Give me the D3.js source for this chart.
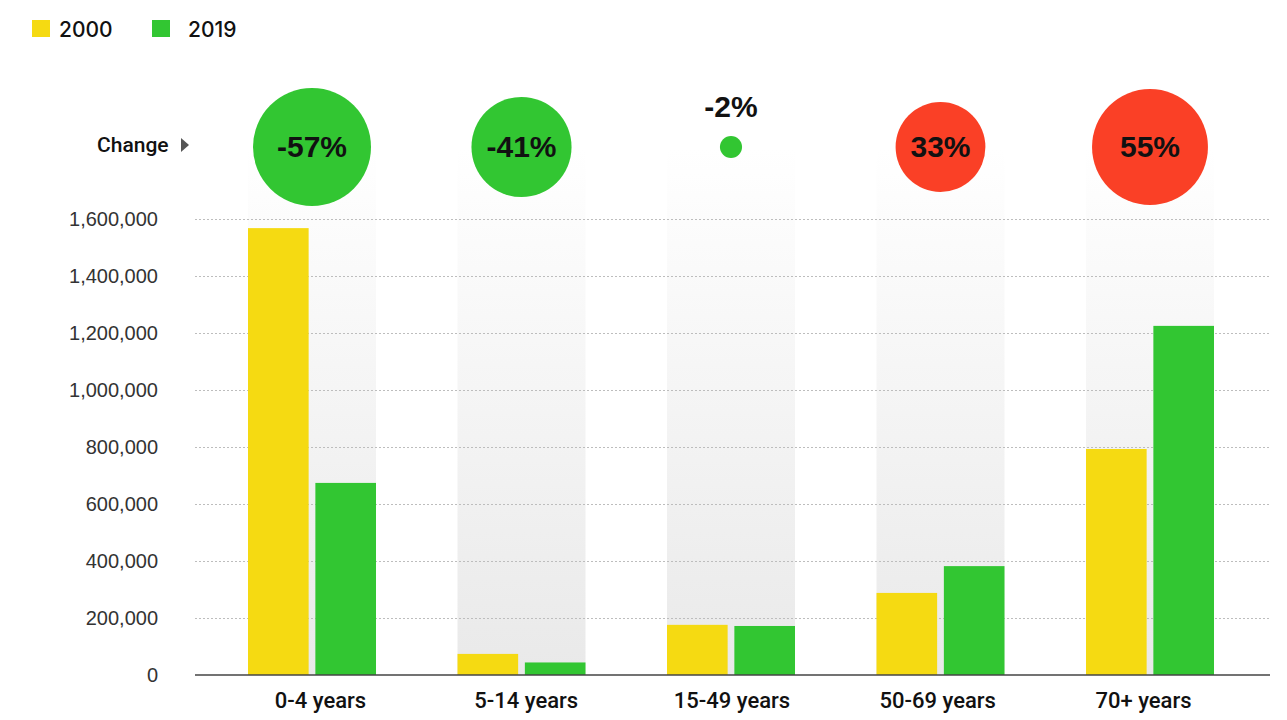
<!DOCTYPE html>
<html><head><meta charset="utf-8">
<script src="https://cdn.jsdelivr.net/npm/d3@7"></script>
<style>body{margin:0;background:#fff;}svg{display:block;}</style>
</head><body>
<svg id="c" width="1287" height="720"></svg>
<script>
const categories = ["0-4 years","5-14 years","15-49 years","50-69 years","70+ years"];
const seriesNames = ["2000","2019"];
const values2000 = [1568000, 74000, 176000, 288000, 793000];
const values2019 = [674000, 44000, 172000, 382000, 1225000];
const changeLabels = ["-57%","-41%","-2%","33%","55%"];
const changePct = [-57, -41, -2, 33, 55];
const yTicks = [0,200000,400000,600000,800000,1000000,1200000,1400000,1600000];
const colors = {"2000":"#f5da12","2019":"#32c632"};

const svg = d3.select("#c");
const defs = svg.append("defs");
const grad = defs.append("linearGradient").attr("id","bandGrad")
  .attr("gradientUnits","userSpaceOnUse").attr("x1",0).attr("x2",0).attr("y1",148).attr("y2",675);
grad.append("stop").attr("offset","0%").attr("stop-color","#ffffff");
grad.append("stop").attr("offset","100%").attr("stop-color","#e9e9e9");

const x = d3.scaleBand().domain(categories).range([248,1214]).paddingInner(0.389).paddingOuter(0);
const xs = d3.scaleBand().domain(seriesNames).range([0,x.bandwidth()]).paddingInner(0.1);
const xLab = d3.scalePoint().domain(categories).range([320,1143]);
const y = d3.scaleLinear().domain([0,1600000]).range([675,219]);
const r = d3.scaleSqrt().domain([0,57]).range([0,59]);

// background bands
svg.append("g").selectAll("rect").data(categories).join("rect")
  .attr("x",d=>x(d)).attr("width",x.bandwidth())
  .attr("y",148).attr("height",675-148).attr("fill","url(#bandGrad)");

// gridlines
svg.append("g").selectAll("line").data(yTicks.filter(t=>t>0)).join("line")
  .attr("x1",195).attr("x2",1270).attr("y1",d=>y(d)+0.5).attr("y2",d=>y(d)+0.5)
  .attr("stroke","#bdbdbd").attr("stroke-width",1).attr("stroke-dasharray","2,2");

// y axis labels
const yAxis = d3.axisLeft(y).tickValues(yTicks).tickSize(0).tickPadding(0).tickFormat(d3.format(","));
const yg = svg.append("g").attr("transform","translate(158,0)").call(yAxis);
yg.select(".domain").remove();
yg.selectAll("text").attr("font-family","'Liberation Sans',Arial,sans-serif").attr("font-size",20).attr("fill","#333");

// bars
const data = categories.map((c,i)=>({c, vals:[{s:"2000",v:values2000[i]},{s:"2019",v:values2019[i]}]}));
const grp = svg.append("g").selectAll("g").data(data).join("g").attr("transform",d=>`translate(${x(d.c)},0)`);
grp.selectAll("rect").data(d=>d.vals).join("rect")
  .attr("x",d=>xs(d.s)).attr("width",xs.bandwidth())
  .attr("y",d=>y(d.v)).attr("height",d=>y(0)-y(d.v)).attr("fill",d=>colors[d.s]);

// baseline
svg.append("line").attr("x1",195).attr("x2",1270).attr("y1",675).attr("y2",675)
  .attr("stroke","#444").attr("stroke-width",1.5);

// x labels
const xAxis = d3.axisBottom(xLab).tickSize(0).tickPadding(0);
const xg = svg.append("g").attr("transform","translate(0,700)").call(xAxis);
xg.select(".domain").remove();
xg.selectAll("text").attr("font-family","Roboto,'Liberation Sans',sans-serif").attr("font-size",22)
  .attr("font-weight",500).attr("fill","#111").attr("dy","0.35em");

// change circles
const cy = 147;
const cg = svg.append("g");
categories.forEach((c,i)=>{
  const cx = x(c)+x.bandwidth()/2;
  const rad = r(Math.abs(changePct[i]));
  cg.append("circle").attr("cx",cx).attr("cy",cy).attr("r",rad)
    .attr("fill",changePct[i]<0?"#32c632":"#fa4026");
  const inside = rad>30;
  cg.append("text").attr("x",cx).attr("y",inside?cy-1:cy-41)
    .attr("text-anchor","middle").attr("dominant-baseline","central")
    .attr("font-family","'Liberation Sans',Arial,sans-serif").attr("font-weight","bold")
    .attr("font-size",30).attr("fill","#111").text(changeLabels[i]);
});

// Change label
svg.append("text").attr("x",97).attr("y",145).attr("dominant-baseline","central")
  .attr("font-family","Roboto,'Liberation Sans',sans-serif").attr("font-weight",500)
  .attr("font-size",21).attr("fill","#111").text("Change");
svg.append("path").attr("d","M181,138 L189,145 L181,152 Z").attr("fill","#555");

// legend
const leg = svg.append("g");
const legX = [32,152];
seriesNames.forEach((s,i)=>{
  leg.append("rect").attr("x",legX[i]).attr("y",20).attr("width",18).attr("height",17).attr("fill",colors[s]);
  leg.append("text").attr("x",legX[i]+(i===0?27:36)).attr("y",29).attr("dominant-baseline","central")
    .attr("font-family","Inter,'Open Sans',sans-serif").attr("font-weight",500)
    .attr("font-size",21).attr("fill","#111").text(s);
});
</script>
</body></html>
